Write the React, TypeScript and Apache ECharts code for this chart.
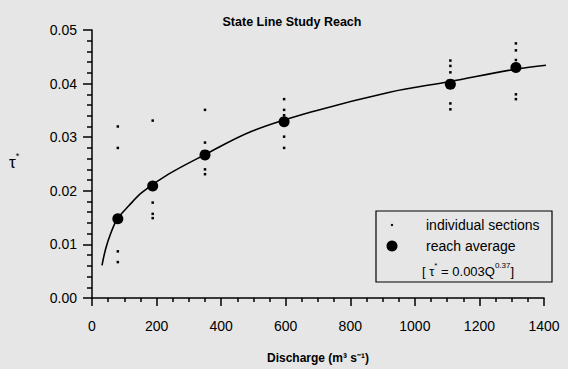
import React, { useEffect, useRef } from "react";
import * as echarts from "echarts";

// Reach-average points (discharge, tau*)
const sectionQ = [80, 188, 350, 595, 1110, 1313];
const reachAverage = [0.0148, 0.0209, 0.0267, 0.0329, 0.0399, 0.0430];

// Individual cross-section values
const individualQ = [80, 80, 80, 80, 188, 188, 188, 188, 350, 350, 350, 350, 595, 595, 595, 595, 595, 1110, 1110, 1110, 1110, 1110, 1313, 1313, 1313, 1313, 1313];
const individualTau = [0.032, 0.028, 0.0087, 0.0067, 0.0331, 0.0178, 0.0157, 0.0149, 0.0351, 0.029, 0.024, 0.0231, 0.0371, 0.0351, 0.0341, 0.0301, 0.028, 0.0443, 0.0433, 0.0421, 0.0363, 0.0352, 0.0475, 0.0462, 0.0444, 0.038, 0.0371];

// Fitted curve
const curveQ = [31, 42, 57, 78, 114, 155, 237, 345, 495, 685, 922, 1109, 1314, 1427];
const curveTau = [0.0061, 0.0091, 0.0119, 0.0147, 0.0172, 0.0197, 0.0231, 0.0266, 0.0311, 0.0348, 0.0384, 0.0404, 0.0427, 0.04355];

const xTicks = { min: 0, max: 1400, interval: 200 };
const yTicks = { min: 0, max: 0.05, interval: 0.01 };

const FONT = "Liberation Sans, Arial, Helvetica, sans-serif";

export default function App() {
  const ref = useRef<HTMLDivElement>(null);
  useEffect(() => {
    document.body.style.margin = "0";
    if (!ref.current) return;
    const chart = echarts.init(ref.current, undefined, { renderer: "svg" });
    chart.setOption({
      animation: false,
      backgroundColor: "#e6e6e6",
      textStyle: { fontFamily: FONT },
      title: {
        text: "State Line Study Reach",
        left: 287,
        textAlign: "center",
        top: 10,
        textStyle: { fontSize: 12.5, fontWeight: "bold", color: "#000", fontFamily: FONT },
      },
      grid: { left: 92, right: 24, top: 30, bottom: 70 },
      xAxis: {
        type: "value",
        min: xTicks.min,
        max: xTicks.max,
        interval: xTicks.interval,
        name: "Discharge (m³ s⁻¹)",
        nameLocation: "middle",
        nameGap: 54,
        nameTextStyle: { fontSize: 12, fontWeight: "bold", color: "#000", fontFamily: FONT },
        axisLine: { show: true, lineStyle: { color: "#000", width: 1.5 } },
        axisTick: { show: true, length: 8, lineStyle: { color: "#000", width: 1.5 } },
        minorTick: { show: true, splitNumber: 4, length: 4, lineStyle: { color: "#000", width: 1.5 } },
        axisLabel: { fontSize: 14, color: "#000", margin: 21, fontFamily: FONT, formatter: (v: number) => String(v) },
        splitLine: { show: false },
        minorSplitLine: { show: false },
      },
      yAxis: {
        type: "value",
        min: yTicks.min,
        max: yTicks.max,
        interval: yTicks.interval,
        axisLine: { show: true, lineStyle: { color: "#000", width: 1.5 } },
        axisTick: { show: true, length: 9, lineStyle: { color: "#000", width: 1.5 } },
        minorTick: { show: true, splitNumber: 5, length: 5, lineStyle: { color: "#000", width: 1.5 } },
        axisLabel: { fontSize: 14, color: "#000", margin: 15, fontFamily: FONT, formatter: (v: number) => v.toFixed(2) },
        splitLine: { show: false },
        minorSplitLine: { show: false },
      },
      series: [
        {
          type: "line",
          data: curveQ.map((q, i) => [q, curveTau[i]]),
          smooth: 0.35,
          symbol: "none",
          lineStyle: { color: "#000", width: 1.6 },
          z: 2,
        },
        {
          type: "scatter",
          data: individualQ.map((q, i) => [q, individualTau[i]]),
          symbol: "rect",
          symbolSize: 2.5,
          itemStyle: { color: "#000", opacity: 1 },
          z: 3,
        },
        {
          type: "scatter",
          data: sectionQ.map((q, i) => [q, reachAverage[i]]),
          symbol: "circle",
          symbolSize: 11,
          itemStyle: { color: "#000", opacity: 1 },
          z: 4,
        },
      ],
      graphic: [
        {
          type: "text",
          x: 9,
          y: 151,
          style: {
            text: "{t|τ}{s|*}",
            rich: {
              t: { fontSize: 17, fill: "#000", fontFamily: FONT, verticalAlign: "bottom", lineHeight: 20 },
              s: { fontSize: 9, fill: "#000", fontFamily: FONT, verticalAlign: "top", lineHeight: 20 },
            },
          },
        },
        {
          type: "rect",
          shape: { x: 376, y: 211, width: 176, height: 71 },
          style: { fill: "none", stroke: "#000", lineWidth: 1.2 },
        },
        { type: "circle", shape: { cx: 392, cy: 225, r: 1.2 }, style: { fill: "#000" } },
        { type: "circle", shape: { cx: 392, cy: 246, r: 5.5 }, style: { fill: "#000" } },
        {
          type: "text",
          x: 426,
          y: 225,
          style: { text: "individual sections", fontSize: 14, fill: "#000", fontFamily: FONT, verticalAlign: "middle" },
        },
        {
          type: "text",
          x: 426,
          y: 246,
          style: { text: "reach average", fontSize: 14, fill: "#000", fontFamily: FONT, verticalAlign: "middle" },
        },
        {
          type: "text",
          x: 422,
          y: 261,
          style: {
            text: "{n|[ τ}{s|*}{n| = 0.003Q}{s|0.37}{n|]}",
            rich: {
              n: { fontSize: 13, fill: "#000", fontFamily: FONT, verticalAlign: "bottom", lineHeight: 17 },
              s: { fontSize: 8, fill: "#000", fontFamily: FONT, verticalAlign: "top", lineHeight: 17 },
            },
          },
        },
      ],
    });
    return () => chart.dispose();
  }, []);
  return <div ref={ref} style={{ width: 568, height: 369 }} />;
}
